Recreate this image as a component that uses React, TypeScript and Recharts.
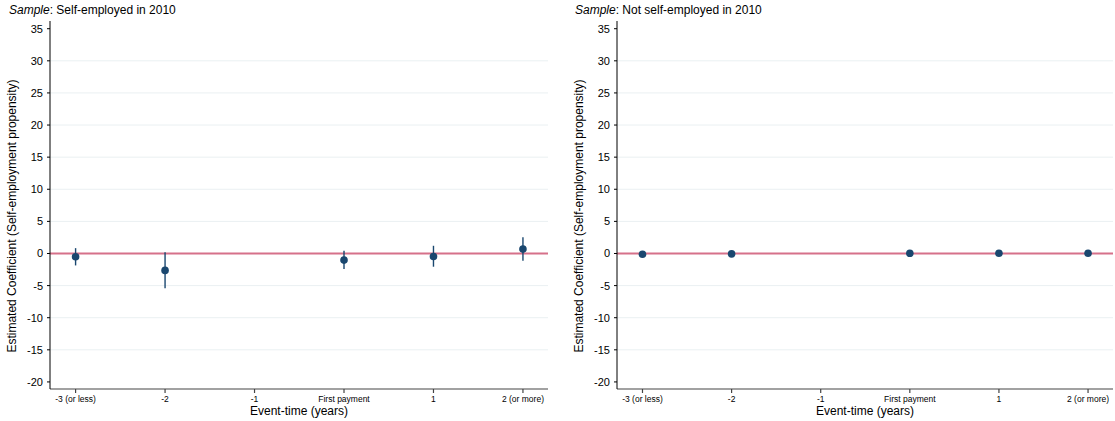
import React from 'react';
import { ScatterChart, Scatter, XAxis, YAxis, ReferenceLine, ErrorBar } from 'recharts';

// event-time categories (-1 is the omitted reference year)
const eventLabels = ['-3 (or less)', '-2', '-1', 'First payment', '1', '2 (or more)'];
const eventTicks = [1, 2, 3, 4, 5, 6];
const eventPos = [1, 2, 4, 5, 6];

// Sample: self-employed in 2010
const coefSelf = [-0.51, -2.63, -1.03, -0.46, 0.68];
const lowSelf = [-1.86, -5.4, -2.43, -2.06, -1.13];
const highSelf = [0.83, 0.2, 0.42, 1.2, 2.54];

// Sample: not self-employed in 2010
const coefNot = [-0.12, -0.06, 0.03, 0.04, 0.04];
const lowNot = [-0.2, -0.14, -0.05, -0.04, -0.04];
const highNot = [-0.04, 0.02, 0.11, 0.12, 0.12];

const yTicks = [-20, -15, -10, -5, 0, 5, 10, 15, 20, 25, 30, 35];
const gridValues = [-15, -10, -5, 5, 10, 15, 20, 25, 30];

const FONT = '"Liberation Sans", Arial, Helvetica, sans-serif';
const NAVY = '#1a476f';

const buildRows = (coef: number[], low: number[], high: number[]) =>
  coef.map((y, i) => ({ x: eventPos[i], y, err: [y - low[i], high[i] - y] }));

const YTitle = () => {
  const cx = 12;
  const cy = 216;
  return (
    <text
      x={cx}
      y={cy}
      transform={`rotate(-90 ${cx} ${cy})`}
      textAnchor="middle"
      dominantBaseline="central"
      fontSize={12}
      fill="#000"
      fontFamily={FONT}
    >
      Estimated Coefficient (Self-employment propensity)
    </text>
  );
};

const XTitle = (props: any) => {
  const vb = props.viewBox || { x: 50, width: 497, y: 389 };
  return (
    <text
      x={vb.x + vb.width / 2}
      y={415}
      textAnchor="middle"
      fontSize={12}
      fill="#000"
      fontFamily={FONT}
    >
      Event-time (years)
    </text>
  );
};

const Dot = (props: any) => (
  <circle cx={props.cx} cy={props.cy} r={3.8} fill={NAVY} />
);

const Panel = ({ rows, width }: { rows: any[]; width: number }) => (
  <ScatterChart width={width} height={421} margin={{ top: 21, right: 0, bottom: 0, left: 0 }}>
    <XAxis
      type="number"
      dataKey="x"
      domain={[0.714, 6.28]}
      ticks={eventTicks}
      allowDataOverflow
      tickFormatter={(v: number) => eventLabels[v - 1]}
      interval={0}
      height={32}
      tickSize={4}
      tickMargin={3}
      stroke="#444"
      strokeWidth={1.2}
      tick={{ fontSize: 8.5, fill: '#000', fontFamily: FONT }}
      label={<XTitle />}
    />
    <YAxis
      type="number"
      dataKey="y"
      domain={[-21.1, 36.2]}
      ticks={yTicks}
      allowDataOverflow
      interval={0}
      width={50}
      tickSize={3}
      tickMargin={4}
      stroke="#000"
      tick={{ fontSize: 11, fill: '#000', fontFamily: FONT }}
      label={<YTitle />}
    />
    {gridValues.map((g) => (
      <ReferenceLine key={g} y={g} stroke="#eaf0f2" strokeWidth={1} />
    ))}
    <ReferenceLine y={0} stroke="#d6718a" strokeWidth={2} />
    <Scatter data={rows} dataKey="y" shape={<Dot />} isAnimationActive={false}>
      <ErrorBar dataKey="err" direction="y" width={0} stroke={NAVY} strokeWidth={1.4} />
    </Scatter>
  </ScatterChart>
);

const titleStyle: React.CSSProperties = {
  position: 'absolute',
  top: 3,
  fontFamily: FONT,
  fontSize: 12,
  color: '#000',
  whiteSpace: 'nowrap',
};

export default function App() {
  return (
    <div style={{ position: 'absolute', left: 0, top: 0, width: 1115, height: 421, background: '#fff' }}>
      <div style={{ position: 'absolute', left: 0, top: 0 }}>
        <Panel rows={buildRows(coefSelf, lowSelf, highSelf)} width={548} />
      </div>
      <div style={{ position: 'absolute', left: 567, top: 0 }}>
        <Panel rows={buildRows(coefNot, lowNot, highNot)} width={546} />
      </div>
      <div style={{ ...titleStyle, left: 9 }}>
        <i>Sample</i>: Self-employed in 2010
      </div>
      <div style={{ ...titleStyle, left: 575 }}>
        <i>Sample</i>: Not self-employed in 2010
      </div>
    </div>
  );
}
